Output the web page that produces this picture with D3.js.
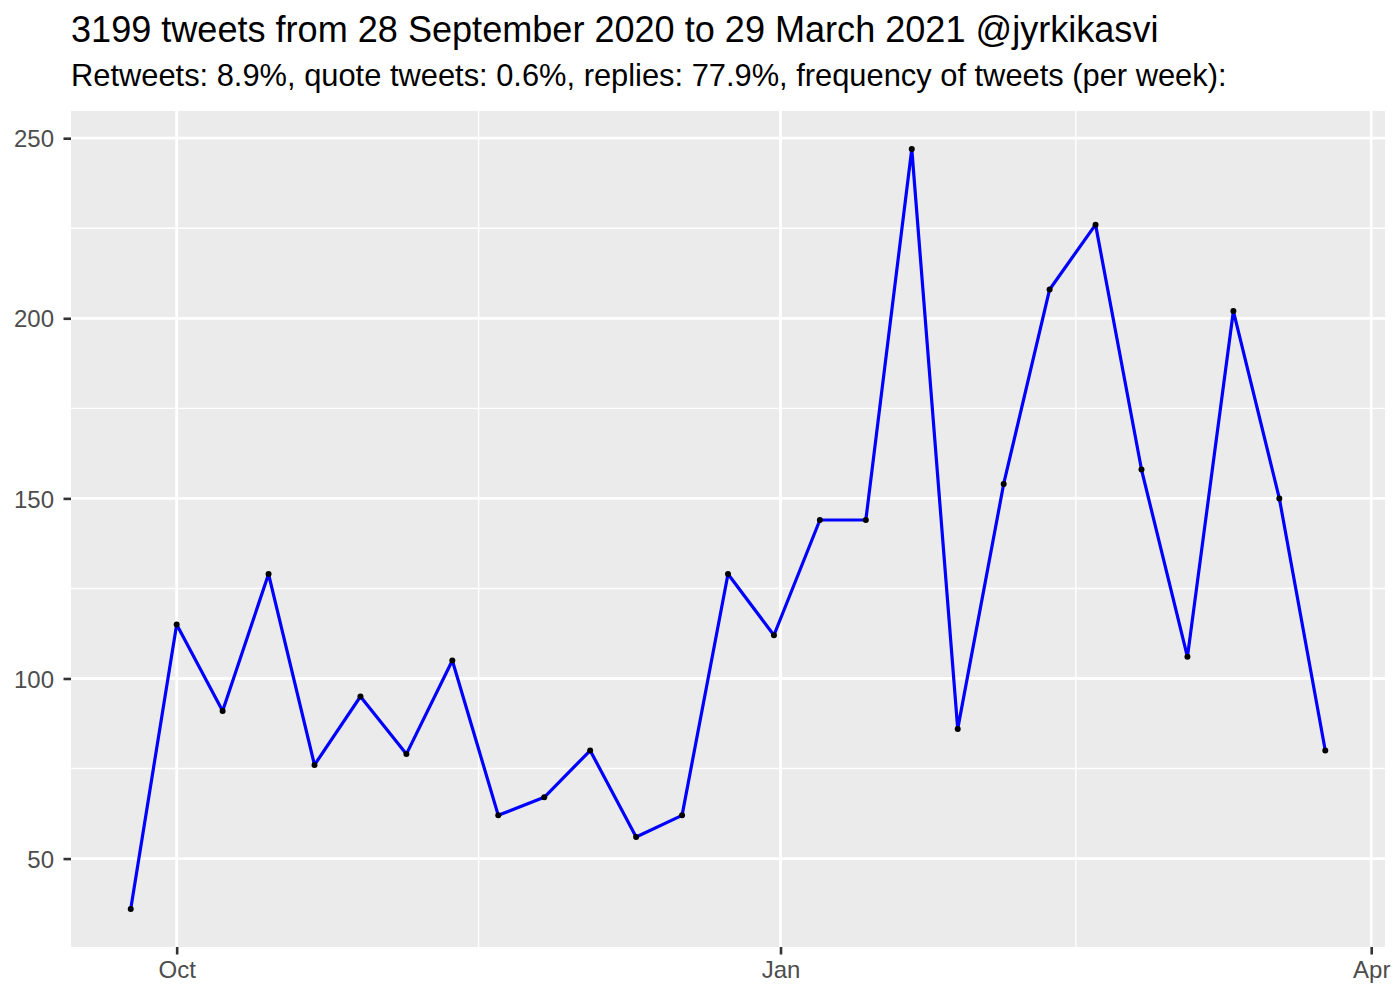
<!DOCTYPE html>
<html>
<head>
<meta charset="utf-8">
<script src="https://cdn.jsdelivr.net/npm/d3@7"></script>
<style>
  body { margin: 0; background: #fff; }
  text { font-family: "Liberation Sans", Arial, sans-serif; }
</style>
</head>
<body>
<div id="chart"></div>
<script>
// weekly tweet counts, week starting dates
let weeks = ["2020-09-24","2020-10-01","2020-10-08","2020-10-15","2020-10-22","2020-10-29",
  "2020-11-05","2020-11-12","2020-11-19","2020-11-26","2020-12-03","2020-12-10","2020-12-17",
  "2020-12-24","2020-12-31","2021-01-07","2021-01-14","2021-01-21","2021-01-28","2021-02-04",
  "2021-02-11","2021-02-18","2021-02-25","2021-03-04","2021-03-11","2021-03-18","2021-03-25"];
let counts = [36,115,91,129,76,95,79,105,62,67,80,56,62,129,112,144,144,247,86,154,208,226,158,106,202,150,80];
let xTicks = ["2020-10-01","2021-01-01","2021-04-01"];
let xTickLabels = ["Oct","Jan","Apr"];
let xMinor = ["2020-11-16","2021-02-15"];
let yTicks = [50,100,150,200,250];
let yMinor = [75,125,175,225];
let title = "3199 tweets from 28 September 2020 to 29 March 2021 @jyrkikasvi";
let subtitle = "Retweets: 8.9%, quote tweets: 0.6%, replies: 77.9%, frequency of tweets (per week):";

let W = 1400, H = 1000,
  pLeft = 71, pRight = 1385, pTop = 111, pBottom = 947;

let parse = d3.timeParse("%Y-%m-%d");
let dates = weeks.map(parse);

let svg = d3.select("#chart").append("svg")
  .attr("width", W).attr("height", H);

svg.append("text").attr("x", 71).attr("y", 42)
  .attr("font-size", 36.1).attr("fill", "#000").text(title);
svg.append("text").attr("x", 71).attr("y", 86)
  .attr("font-size", 30.85).attr("fill", "#000").text(subtitle);

// ggplot-style 5% expansion
let dMin = d3.min(dates), dMax = d3.max(dates);
let span = dMax - dMin;
let xScale = d3.scaleTime()
  .domain([new Date(+dMin - span * 0.05), new Date(+dMax + span * 0.05)])
  .range([pLeft, pRight]);
let yMin = d3.min(counts), yMax = d3.max(counts), ySpan = yMax - yMin;
let yScale = d3.scaleLinear()
  .domain([yMin - ySpan * 0.05, yMax + ySpan * 0.05])
  .range([pBottom, pTop]);

svg.append("rect").attr("x", pLeft).attr("y", pTop)
  .attr("width", pRight - pLeft).attr("height", pBottom - pTop)
  .attr("fill", "#ebebeb");

// minor grid
svg.selectAll(".ymin").data(yMinor).enter().append("line")
  .attr("x1", pLeft).attr("x2", pRight)
  .attr("y1", d => yScale(d)).attr("y2", d => yScale(d))
  .attr("stroke", "#fff").attr("stroke-width", 1.4);
svg.selectAll(".xmin").data(xMinor.map(parse)).enter().append("line")
  .attr("y1", pTop).attr("y2", pBottom)
  .attr("x1", d => xScale(d)).attr("x2", d => xScale(d))
  .attr("stroke", "#fff").attr("stroke-width", 1.4);

// major grid
svg.selectAll(".ymaj").data(yTicks).enter().append("line")
  .attr("x1", pLeft).attr("x2", pRight)
  .attr("y1", d => yScale(d)).attr("y2", d => yScale(d))
  .attr("stroke", "#fff").attr("stroke-width", 2.8);
svg.selectAll(".xmaj").data(xTicks.map(parse)).enter().append("line")
  .attr("y1", pTop).attr("y2", pBottom)
  .attr("x1", d => xScale(d)).attr("x2", d => xScale(d))
  .attr("stroke", "#fff").attr("stroke-width", 2.8);

// axes
let xAxis = d3.axisBottom(xScale)
  .tickValues(xTicks.map(parse))
  .tickFormat((d, i) => xTickLabels[i])
  .tickSizeOuter(0).tickSize(7.5).tickPadding(4);
let gx = svg.append("g").attr("transform", "translate(0," + pBottom + ")").call(xAxis);

let yAxis = d3.axisLeft(yScale).tickValues(yTicks)
  .tickSizeOuter(0).tickSize(7.5).tickPadding(5);
let gy = svg.append("g").attr("transform", "translate(" + pLeft + ",0)").call(yAxis);

[gx, gy].forEach(g => {
  g.select(".domain").remove();
  g.selectAll(".tick line").attr("stroke", "#333").attr("stroke-width", 2.6);
  g.selectAll(".tick text").attr("fill", "#4d4d4d")
    .attr("font-size", 24).attr("font-family", "Liberation Sans, Arial, sans-serif");
});
gx.selectAll(".tick text").attr("dy", "0.71em").attr("y", 14);
gy.selectAll(".tick text").attr("x", -17).attr("dy", "0.36em");

// line and points
let line = d3.line()
  .x((d, i) => xScale(dates[i]))
  .y(d => yScale(d));
svg.append("path").datum(counts)
  .attr("d", line).attr("fill", "none")
  .attr("stroke", "#0000ff").attr("stroke-width", 3.2)
  .attr("stroke-linejoin", "round");

svg.selectAll(".pt").data(counts).enter().append("circle")
  .attr("cx", (d, i) => xScale(dates[i]))
  .attr("cy", d => yScale(d))
  .attr("r", 3).attr("fill", "#000");
</script>
</body>
</html>
